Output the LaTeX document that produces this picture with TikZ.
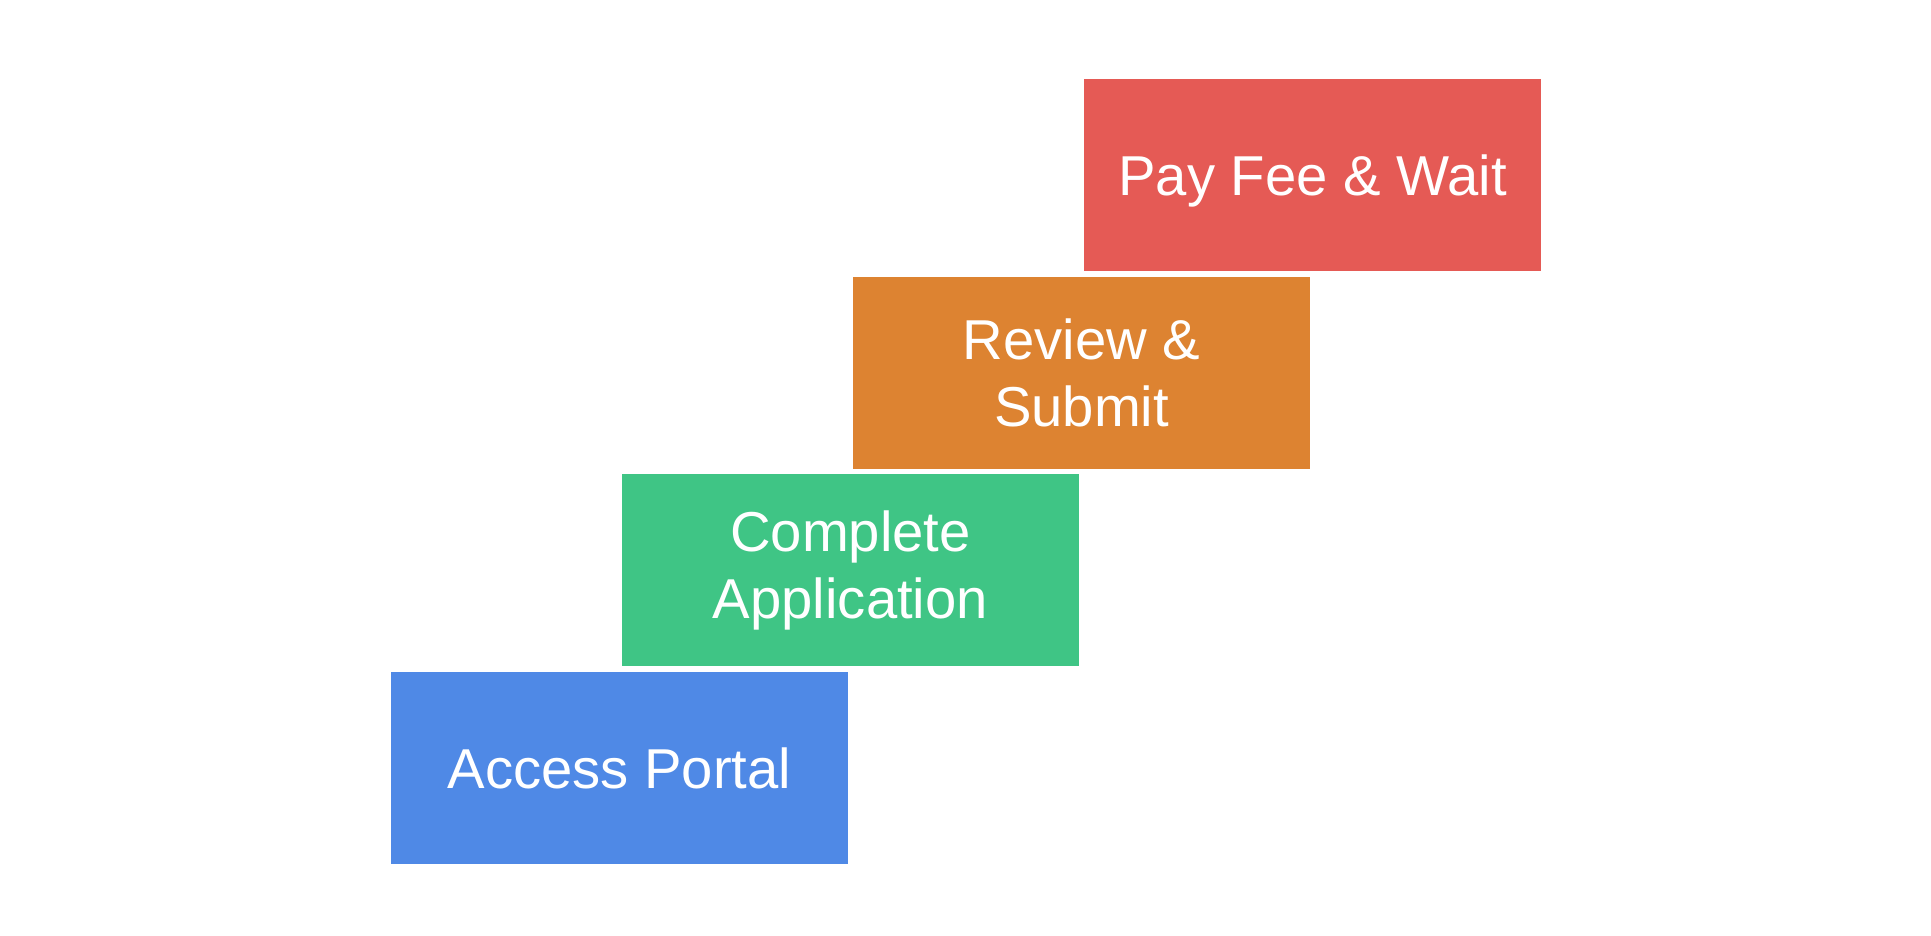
\documentclass[tikz,border=0pt]{standalone}
\usepackage{fontspec}
\setmainfont{Liberation Sans}
\usetikzlibrary{positioning}
\definecolor{portalblue}{HTML}{4F89E6}
\definecolor{formgreen}{HTML}{3FC585}
\definecolor{submitorange}{HTML}{DD8331}
\definecolor{feered}{HTML}{E55A55}

\begin{document}
\begin{tikzpicture}[
    node distance=0.055cm,
    every node/.style={font=\fontsize{16}{19}\selectfont},
    stepbox/.style={align=center, minimum width=4.57cm, minimum height=1.92cm, inner sep=0pt, outer sep=0pt, text=white}
]
\useasboundingbox (0,0) rectangle (19.31,9.36);
\node[stepbox, fill=portalblue] (access) at (6.195,1.68) {Access Portal};
\node[stepbox, fill=formgreen, above=of access, xshift=2.31cm] (complete) {Complete\\Application};
\node[stepbox, fill=submitorange, above=of complete, xshift=2.31cm] (review) {Review \&\\Submit};
\node[stepbox, fill=feered, text depth=0pt, above=of review, xshift=2.31cm] (pay) {Pay Fee \& Wait};
\end{tikzpicture}
\end{document}
